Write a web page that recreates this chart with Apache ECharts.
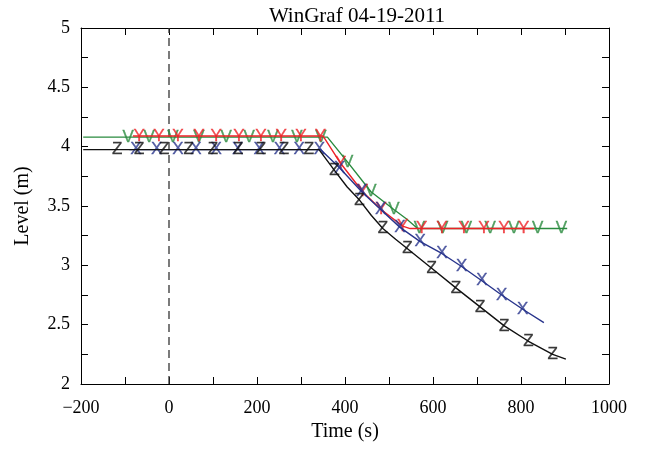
<!DOCTYPE html>
<html>
<head>
<meta charset="utf-8">
<script src="https://cdn.jsdelivr.net/npm/echarts@6/dist/echarts.min.js"></script>
<style>
html,body{margin:0;padding:0;background:#fff;}
#chart{width:646px;height:450px;}
</style>
</head>
<body>
<div id="chart"></div>
<script>
// ---- data (time in s, level in m) ----
var titleText = 'WinGraf 04-19-2011';
var xTicks = [-200, 0, 200, 400, 600, 800, 1000];
var yTicks = [2, 2.5, 3, 3.5, 4, 4.5, 5];

var blackLineT = [-195, 341, 376, 405, 433, 460, 486, 515, 542, 597, 652, 707, 762, 817, 872, 902];
var blackLineV = [3.975, 3.975, 3.80, 3.66, 3.55, 3.42, 3.31, 3.22, 3.14, 2.975, 2.81, 2.65, 2.49, 2.36, 2.25, 2.21];
var blackMarkT = [-118, -68, -11, 45, 100, 157, 209, 261, 318, 376, 433, 486, 542, 597, 652, 707, 762, 817, 872];
var blackMarkV = [3.975, 3.975, 3.975, 3.975, 3.975, 3.975, 3.975, 3.975, 3.975, 3.80, 3.55, 3.31, 3.14, 2.975, 2.81, 2.65, 2.49, 2.36, 2.25];

var blueLineT = [-90, 345, 388, 438, 481, 525, 571, 620, 665, 711, 756, 804, 852];
var blueLineV = [3.975, 3.975, 3.82, 3.62, 3.47, 3.32, 3.20, 3.10, 2.99, 2.87, 2.75, 2.63, 2.517];
var blueMarkT = [-75, -28, 20, 61, 107, 156, 205, 251, 296, 342, 388, 438, 481, 525, 571, 620, 665, 711, 756, 804];
var blueMarkV = [3.975, 3.975, 3.975, 3.975, 3.975, 3.975, 3.975, 3.975, 3.975, 3.975, 3.82, 3.62, 3.47, 3.32, 3.20, 3.10, 2.99, 2.87, 2.75, 2.63];

var redLineT = [-82, 350, 390, 440, 482, 531, 548, 830];
var redLineV = [4.09, 4.09, 3.86, 3.62, 3.47, 3.33, 3.31, 3.31];
var redMarkT = [-68, -23, 20, 68, 107, 159, 209, 255, 300, 344, 390, 440, 482, 531, 574, 620, 670, 716, 761, 806];
var redMarkV = [4.09, 4.09, 4.09, 4.09, 4.09, 4.09, 4.09, 4.09, 4.09, 4.09, 3.86, 3.62, 3.47, 3.33, 3.31, 3.31, 3.31, 3.31, 3.31, 3.31];

var greenLineT = [-195, 360, 406, 459, 511, 540, 565, 905];
var greenLineV = [4.08, 4.08, 3.87, 3.62, 3.47, 3.39, 3.31, 3.31];
var greenMarkT = [-93, -45, 9, 68, 130, 182, 236, 291, 345, 406, 459, 511, 569, 622, 676, 730, 784, 838, 892];
var greenMarkV = [4.08, 4.08, 4.08, 4.08, 4.08, 4.08, 4.08, 4.08, 4.08, 3.87, 3.62, 3.47, 3.31, 3.31, 3.31, 3.31, 3.31, 3.31, 3.31];

var refLineT = [0, 0];
var refLineV = [2, 5];

// ---- helpers ----
function zip(a, b) { return a.map(function (v, i) { return [v, b[i]]; }); }
var FONT = '"Liberation Serif", "DejaVu Serif", serif';
var MARK_FONT = '"Liberation Sans", Arial, sans-serif';
var C_BLACK = '#111111', C_BLUE = '#28348c', C_RED = '#ed2227', C_GREEN = '#2a8b3f';

function fmtX(v) {
  if (xTicks.indexOf(v) < 0) return '';
  return v < 0 ? '\u2212' + (-v) : String(v);
}
function fmtY(v) {
  var r = Math.round(v * 100) / 100;
  return yTicks.indexOf(r) < 0 ? '' : String(r);
}

function lineSeries(t, v, color, z) {
  return { type: 'line', data: zip(t, v), showSymbol: false, symbol: 'none', silent: true, z: z,
    lineStyle: { color: color, width: 1.4 }, animation: false };
}
// letter markers (Z, X, Y, V) drawn as text at each data point
function markSeries(t, v, color, letter, z) {
  return { type: 'scatter', data: zip(t, v), symbol: 'circle', symbolSize: 2, silent: true, z: z,
    itemStyle: { color: 'rgba(0,0,0,0)' },
    label: { show: true, position: 'inside', formatter: letter, color: color,
      fontFamily: MARK_FONT, fontSize: 17, offset: [0, 1],
      textBorderColor: color, textBorderWidth: 0.3 },
    labelLayout: { hideOverlap: false },
    animation: false };
}

function axisCommon() {
  return {
    axisLine: { show: true, onZero: false, lineStyle: { color: '#000', width: 1 } },
    axisTick: { show: true, inside: true, length: 7, lineStyle: { color: '#000', width: 1 } },
    splitLine: { show: false }
  };
}

var chart = echarts.init(document.getElementById('chart'), null, { renderer: 'canvas' });
chart.setOption({
  animation: false,
  backgroundColor: '#fff',
  title: { text: titleText, left: 352, top: 1, textAlign: 'center',
    textStyle: { fontFamily: FONT, fontSize: 21, fontWeight: 'normal', color: '#000' } },
  grid: { left: 81, right: 37, top: 28, bottom: 66, containLabel: false },
  xAxis: [
    Object.assign(axisCommon(), { type: 'value', min: -200, max: 1000, interval: 100, position: 'bottom',
      name: 'Time (s)', nameLocation: 'middle', nameGap: 38,
      nameTextStyle: { fontFamily: FONT, fontSize: 20, color: '#000' },
      axisLabel: { formatter: fmtX, fontFamily: FONT, fontSize: 18, color: '#000', margin: 15 } }),
    Object.assign(axisCommon(), { type: 'value', min: -200, max: 1000, interval: 100, position: 'top',
      axisLabel: { show: false } })
  ],
  yAxis: [
    Object.assign(axisCommon(), { type: 'value', min: 2, max: 5, interval: 0.25, position: 'left',
      name: 'Level (m)', nameLocation: 'middle', nameGap: 48,
      nameTextStyle: { fontFamily: FONT, fontSize: 20, color: '#000' },
      axisLabel: { formatter: fmtY, fontFamily: FONT, fontSize: 18, color: '#000', margin: 11 } }),
    Object.assign(axisCommon(), { type: 'value', min: 2, max: 5, interval: 0.25, position: 'right',
      axisLabel: { show: false } })
  ],
  series: [
    { type: 'line', data: zip(refLineT, refLineV), showSymbol: false, symbol: 'none', silent: true, z: 1,
      lineStyle: { color: '#333', width: 1.3, type: [8, 5] } },
    lineSeries(greenLineT, greenLineV, C_GREEN, 2),
    markSeries(greenMarkT, greenMarkV, C_GREEN, 'V', 3),
    lineSeries(redLineT, redLineV, C_RED, 4),
    markSeries(redMarkT, redMarkV, C_RED, 'Y', 5),
    lineSeries(blueLineT, blueLineV, C_BLUE, 6),
    markSeries(blueMarkT, blueMarkV, C_BLUE, 'X', 7),
    lineSeries(blackLineT, blackLineV, C_BLACK, 8),
    markSeries(blackMarkT, blackMarkV, C_BLACK, 'Z', 9)
  ]
});
</script>
</body>
</html>
